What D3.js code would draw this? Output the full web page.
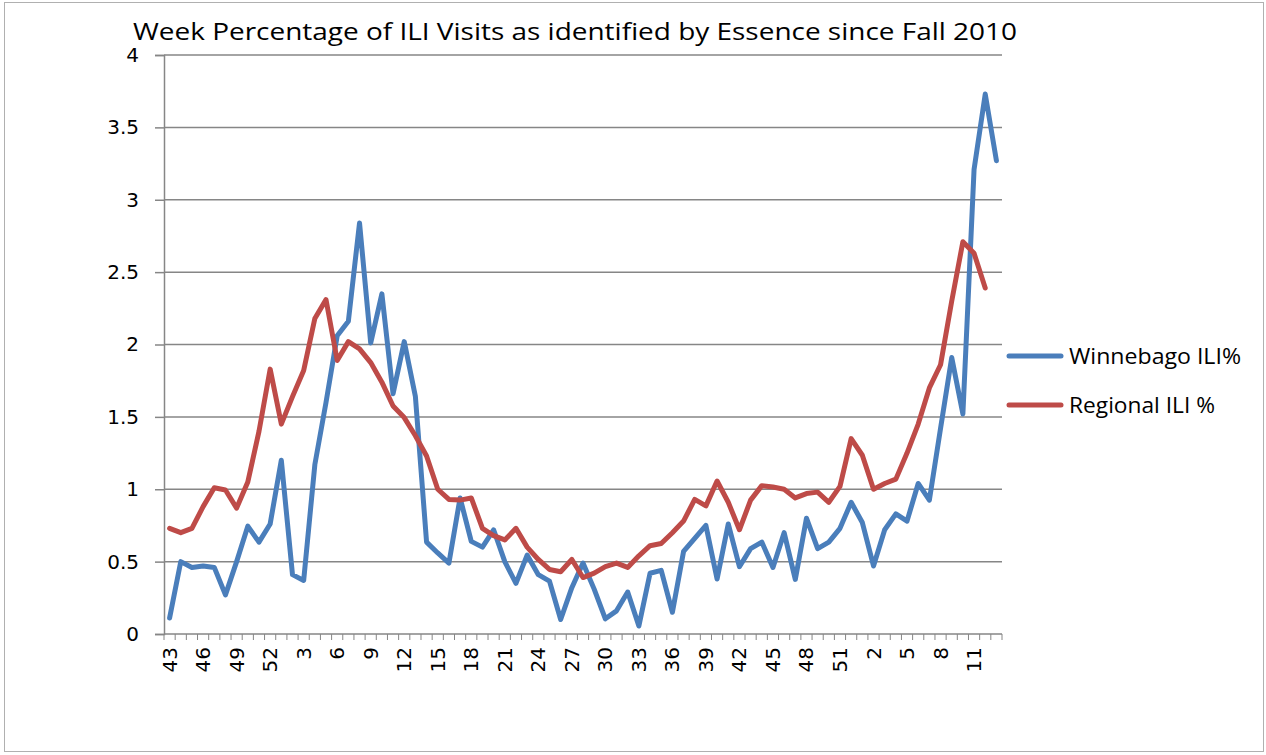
<!DOCTYPE html>
<html>
<head>
<meta charset="utf-8">
<script src="https://cdn.jsdelivr.net/npm/d3@7"></script>
<style>
  body { margin: 0; background: #fff; }
  svg { display: block; }
</style>
</head>
<body>
<svg id="chart" width="1266" height="755"></svg>
<script>
// week numbers: fall 2010 (43-52), 2011 (1-52), 2012 (1-13)
const weeks = [
  43, 44, 45, 46, 47, 48, 49, 50, 51, 52,
  1, 2, 3, 4, 5, 6, 7, 8, 9, 10, 11, 12, 13, 14, 15, 16, 17, 18, 19, 20,
  21, 22, 23, 24, 25, 26, 27, 28, 29, 30, 31, 32, 33, 34, 35, 36, 37, 38, 39, 40,
  41, 42, 43, 44, 45, 46, 47, 48, 49, 50, 51, 52,
  1, 2, 3, 4, 5, 6, 7, 8, 9, 10, 11, 12, 13
];

const winnebago = [
  0.11, 0.50, 0.46, 0.47, 0.46, 0.27, 0.50, 0.745, 0.635, 0.76,
  1.20, 0.41, 0.37, 1.17, 1.60, 2.06, 2.16, 2.84, 2.01, 2.35,
  1.66, 2.02, 1.64, 0.635, 0.56, 0.49, 0.94, 0.64, 0.60, 0.72,
  0.50, 0.35, 0.545, 0.41, 0.365, 0.10, 0.32, 0.49, 0.31, 0.105,
  0.16, 0.29, 0.055, 0.42, 0.44, 0.15, 0.57, 0.66, 0.75, 0.38,
  0.76, 0.465, 0.59, 0.635, 0.46, 0.70, 0.377, 0.80, 0.59, 0.635,
  0.73, 0.91, 0.77, 0.47, 0.72, 0.83, 0.78, 1.04, 0.925, 1.42,
  1.91, 1.52, 3.21, 3.73, 3.27
];

const regional = [
  0.73, 0.70, 0.73, 0.88, 1.01, 0.995, 0.87, 1.05, 1.40, 1.83,
  1.45, 1.64, 1.82, 2.18, 2.31, 1.89, 2.02, 1.97, 1.875, 1.74,
  1.575, 1.495, 1.37, 1.23, 1.00, 0.93, 0.925, 0.94, 0.73, 0.68,
  0.65, 0.73, 0.60, 0.515, 0.446, 0.43, 0.515, 0.39, 0.42, 0.465,
  0.49, 0.46, 0.54, 0.61, 0.625, 0.70, 0.78, 0.93, 0.885, 1.057,
  0.91, 0.72, 0.925, 1.025, 1.015, 1.00, 0.94, 0.97, 0.98, 0.91,
  1.02, 1.35, 1.235, 1.00, 1.04, 1.07, 1.25, 1.45, 1.70, 1.86,
  2.30, 2.71, 2.63, 2.39, null
];

const yTicks = [0, 0.5, 1, 1.5, 2, 2.5, 3, 3.5, 4];

const seriesNames = ["Winnebago ILI%", "Regional ILI %"];
const seriesColors = ["#4a7ebb", "#be4b48"];

const svg = d3.select("#chart");

// outer chart border
svg.append("rect")
  .attr("x", 4.5).attr("y", 2.5)
  .attr("width", 1259).attr("height", 749)
  .attr("fill", "none")
  .attr("stroke", "#b0b0b0")
  .attr("stroke-width", 1);

const plot = { left: 164, right: 1002, top: 55, bottom: 634 };
const idx = d3.range(weeks.length);

const x = d3.scaleBand().domain(idx).range([plot.left, plot.right]).paddingInner(0).paddingOuter(0);
const y = d3.scaleLinear().domain([0, 4]).range([plot.bottom, plot.top]);

// gridlines
svg.append("g")
  .selectAll("line")
  .data(yTicks.filter(d => d > 0))
  .join("line")
  .attr("x1", plot.left).attr("x2", plot.right)
  .attr("y1", d => y(d)).attr("y2", d => y(d))
  .attr("stroke", "#868686")
  .attr("stroke-width", 1.5);

// y axis
const yAxis = d3.axisLeft(y).tickValues(yTicks).tickSize(9).tickPadding(16)
  .tickFormat(d => d);
const yg = svg.append("g").attr("transform", `translate(${plot.left},0)`).call(yAxis);
yg.select(".domain").attr("stroke", "#868686").attr("stroke-width", 1.5);
yg.selectAll(".tick line").attr("stroke", "#868686").attr("stroke-width", 1.5);
yg.selectAll("text")
  .attr("font-family", "DejaVu Sans, sans-serif")
  .attr("font-size", 20)
  .attr("fill", "#000");

// x axis ticks at every category boundary
const xg = svg.append("g");
xg.append("line")
  .attr("x1", plot.left).attr("x2", plot.right)
  .attr("y1", plot.bottom).attr("y2", plot.bottom)
  .attr("stroke", "#868686").attr("stroke-width", 1.5);
xg.selectAll("line.tk")
  .data(d3.range(weeks.length + 1))
  .join("line")
  .attr("class", "tk")
  .attr("x1", d => plot.left + d * x.bandwidth())
  .attr("x2", d => plot.left + d * x.bandwidth())
  .attr("y1", plot.bottom).attr("y2", plot.bottom + 6)
  .attr("stroke", "#868686").attr("stroke-width", 1);

xg.selectAll("text")
  .data(idx.filter(i => i % 3 === 0))
  .join("text")
  .attr("transform", i => `translate(${x(i) + x.bandwidth() / 2 + 7},${plot.bottom + 13}) rotate(-90)`)
  .attr("text-anchor", "end")
  .attr("font-family", "DejaVu Sans, sans-serif")
  .attr("font-size", 20)
  .attr("fill", "#000")
  .text(i => weeks[i]);

// lines
const cx = i => x(i) + x.bandwidth() / 2;
[winnebago, regional].forEach((vals, k) => {
  const line = d3.line()
    .defined(d => d != null)
    .x((d, i) => cx(i))
    .y(d => y(d));
  svg.append("path")
    .datum(vals)
    .attr("fill", "none")
    .attr("stroke", seriesColors[k])
    .attr("stroke-width", 5)
    .attr("stroke-linejoin", "round")
    .attr("stroke-linecap", "round")
    .attr("d", line);
});

// title
svg.append("text")
  .attr("x", 575).attr("y", 40)
  .attr("text-anchor", "middle")
  .attr("font-family", "Open Sans, sans-serif")
  .attr("font-size", 24)
  .attr("textLength", 884)
  .attr("lengthAdjust", "spacingAndGlyphs")
  .attr("fill", "#000")
  .text("Week Percentage of ILI Visits as identified by Essence since Fall 2010");

// legend
const legend = svg.append("g");
seriesNames.forEach((name, k) => {
  const ly = 356 + k * 49;
  legend.append("line")
    .attr("x1", 1009).attr("x2", 1061)
    .attr("y1", ly).attr("y2", ly)
    .attr("stroke", seriesColors[k])
    .attr("stroke-width", 5)
    .attr("stroke-linecap", "round");
  legend.append("text")
    .attr("x", 1069).attr("y", ly + 8)
    .attr("font-family", "Open Sans, sans-serif")
    .attr("font-size", 21)
    .attr("textLength", k === 0 ? 172 : 146)
    .attr("lengthAdjust", "spacingAndGlyphs")
    .attr("fill", "#000")
    .text(name);
});
</script>
</body>
</html>
